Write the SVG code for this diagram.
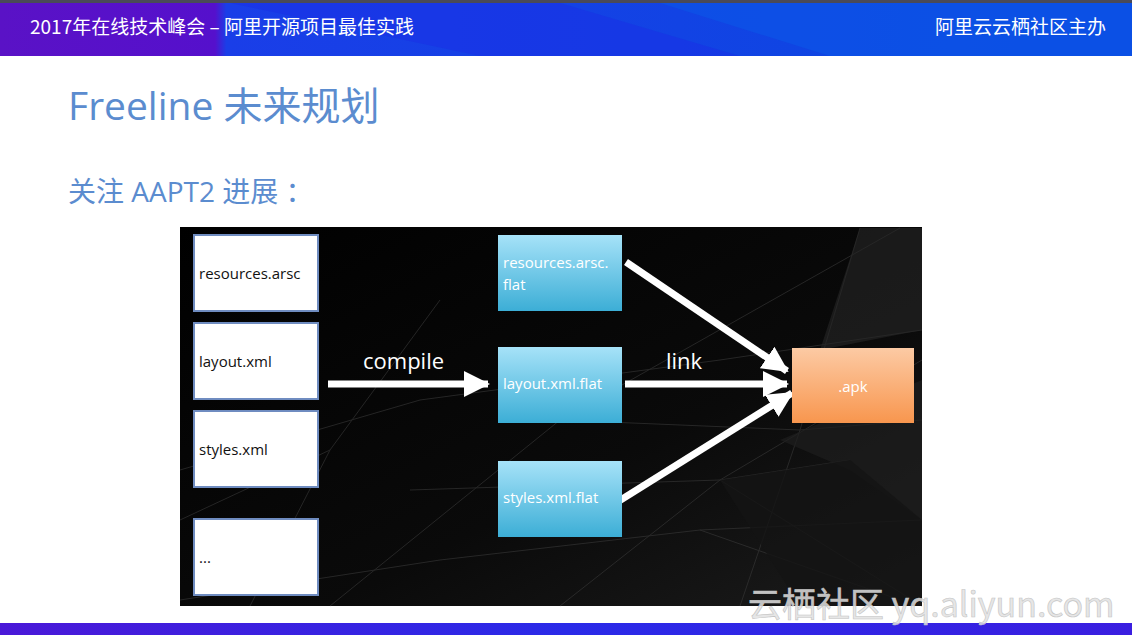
<svg xmlns="http://www.w3.org/2000/svg" width="1132" height="635" viewBox="0 0 1132 635">
<defs>
<linearGradient id="hdr" x1="0" y1="0" x2="1" y2="0">
<stop offset="0" stop-color="#5a12c6"/><stop offset="0.19" stop-color="#5510cc"/><stop offset="0.2" stop-color="#1a3ee8"/><stop offset="1" stop-color="#0a48e0"/>
</linearGradient>
<linearGradient id="ftr" x1="0" y1="0" x2="1" y2="0">
<stop offset="0" stop-color="#4a18d8"/><stop offset="0.5" stop-color="#2a2ae8"/><stop offset="1" stop-color="#3a1ee0"/>
</linearGradient>
<linearGradient id="blue" x1="0" y1="0" x2="0" y2="1">
<stop offset="0" stop-color="#a6e2f8"/><stop offset="1" stop-color="#3caed6"/>
</linearGradient>
<linearGradient id="orange" x1="0" y1="0" x2="0" y2="1">
<stop offset="0" stop-color="#fccaa4"/><stop offset="1" stop-color="#f8964e"/>
</linearGradient>
<linearGradient id="panel" x1="0" y1="0" x2="1" y2="1">
<stop offset="0" stop-color="#000"/><stop offset="0.6" stop-color="#0a0a0a"/><stop offset="1" stop-color="#1c1c1c"/>
</linearGradient>
<marker id="ah" markerUnits="userSpaceOnUse" markerWidth="26" markerHeight="26" refX="24" refY="13" orient="auto">
<path d="M0,0 L26,13 L0,26 Z" fill="#fff"/>
</marker>
<style>
.wbox{fill:#fff;stroke:#6f8cc0;stroke-width:2}
.bbox{fill:url(#blue)}
.wt{font-family:"Open Sans","Liberation Sans",sans-serif;font-size:15px;fill:#111}
.bt{font-family:"Open Sans","Liberation Sans",sans-serif;font-size:15px;fill:#fff}
.lbl{font-family:"Open Sans","Liberation Sans",sans-serif;font-size:22px;fill:#fff}
.arr{stroke:#fff;stroke-width:7;fill:none;marker-end:url(#ah)}
.facet{stroke:#3a3a3a;stroke-width:1;fill:none;opacity:0.6}
.hdr{font-family:"Noto Sans CJK SC","Liberation Sans",sans-serif;font-size:19px;fill:#fff}
</style>
</defs>
<rect width="1132" height="635" fill="#fff"/>
<!-- header -->
<rect x="0" y="0" width="1132" height="56" fill="url(#hdr)"/>
<polygon points="230,3 560,3 740,56 480,56" fill="#1a2ee6" opacity="0.5"/>
<polygon points="660,3 1132,3 1132,56 830,56" fill="#0c56e8" opacity="0.6"/>
<rect x="0" y="0" width="1132" height="3" fill="#4a4a58"/>
<text class="hdr" x="30" y="34">2017年在线技术峰会 – 阿里开源项目最佳实践</text>
<text class="hdr" x="1106" y="34" text-anchor="end">阿里云云栖社区主办</text>
<!-- footer -->
<rect x="0" y="623" width="1132" height="12" fill="url(#ftr)"/>
<!-- titles -->
<text x="68" y="120" font-family="'Open Sans','Noto Sans CJK SC',sans-serif" font-size="39" fill="#5b8ccf">Freeline 未来规划</text>
<text x="68" y="202" font-family="'Open Sans','Noto Sans CJK SC',sans-serif" font-size="28" fill="#5b8ccf">关注 AAPT2 进展 ：</text>
<!-- panel -->
<rect x="180" y="227" width="742" height="379" fill="url(#panel)"/>
<g class="facet">
<path d="M180,470 L420,400 L720,360 L922,330"/>
<path d="M180,600 L440,560 L700,530 L922,520"/>
<path d="M330,606 L560,420 L900,228"/>
<path d="M560,606 L720,480 L922,360"/>
<path d="M720,480 L922,606"/>
<path d="M410,490 L720,480 L850,460"/>
<path d="M250,606 L330,450 L440,300"/>
<path d="M740,606 L800,430 L860,228"/>
<path d="M560,420 L800,430 L922,420"/>
<path d="M180,520 L330,450"/>
<path d="M700,530 L900,600"/>
</g>
<polygon points="780,440 922,380 922,520 850,470" fill="#1e1e1e" opacity="0.7"/>
<polygon points="720,480 850,460 922,520 922,606 800,606" fill="#141414" opacity="0.8"/>
<polygon points="860,228 922,228 922,330 820,350" fill="#262626" opacity="0.6"/>
<!-- connectors -->
<g id="connectors">
<line class="arr" x1="328" y1="384" x2="488" y2="384"/>
<line class="arr" x1="625" y1="384" x2="787" y2="384"/>
<line class="arr" x1="626" y1="262" x2="787" y2="371"/>
<line class="arr" x1="619" y1="501" x2="792" y2="393"/>
</g>
<text class="lbl" x="363" y="369">compile</text>
<text class="lbl" x="666" y="369">link</text>
<!-- source nodes -->
<g id="n-resources"><rect class="wbox" x="194" y="235" width="124" height="76"/><text class="wt" x="199" y="279">resources.arsc</text></g>
<g id="n-layout"><rect class="wbox" x="194" y="323" width="124" height="76"/><text class="wt" x="199" y="367">layout.xml</text></g>
<g id="n-styles"><rect class="wbox" x="194" y="411" width="124" height="76"/><text class="wt" x="199" y="455">styles.xml</text></g>
<g id="n-more"><rect class="wbox" x="194" y="519" width="124" height="76"/><text class="wt" x="199" y="563">...</text></g>
<!-- flat nodes -->
<g id="n-resources-flat"><rect class="bbox" x="498" y="235" width="124" height="76"/><text class="bt" x="503" y="268">resources.arsc.</text><text class="bt" x="503" y="290">flat</text></g>
<g id="n-layout-flat"><rect class="bbox" x="498" y="347" width="124" height="76"/><text class="bt" x="503" y="389">layout.xml.flat</text></g>
<g id="n-styles-flat"><rect class="bbox" x="498" y="461" width="124" height="76"/><text class="bt" x="503" y="503">styles.xml.flat</text></g>
<!-- apk -->
<g id="n-apk"><rect fill="url(#orange)" x="792" y="348" width="122" height="75"/><text class="bt" x="853" y="392" text-anchor="middle">.apk</text></g>
<!-- watermark -->
<text x="748" y="617" font-family="'Noto Sans CJK SC','Liberation Sans',sans-serif" font-size="34" fill="#e2e2e2" fill-opacity="0.85" stroke="#c4c4c4" stroke-width="0.6">云栖社区 yq.aliyun.com</text>
</svg>
